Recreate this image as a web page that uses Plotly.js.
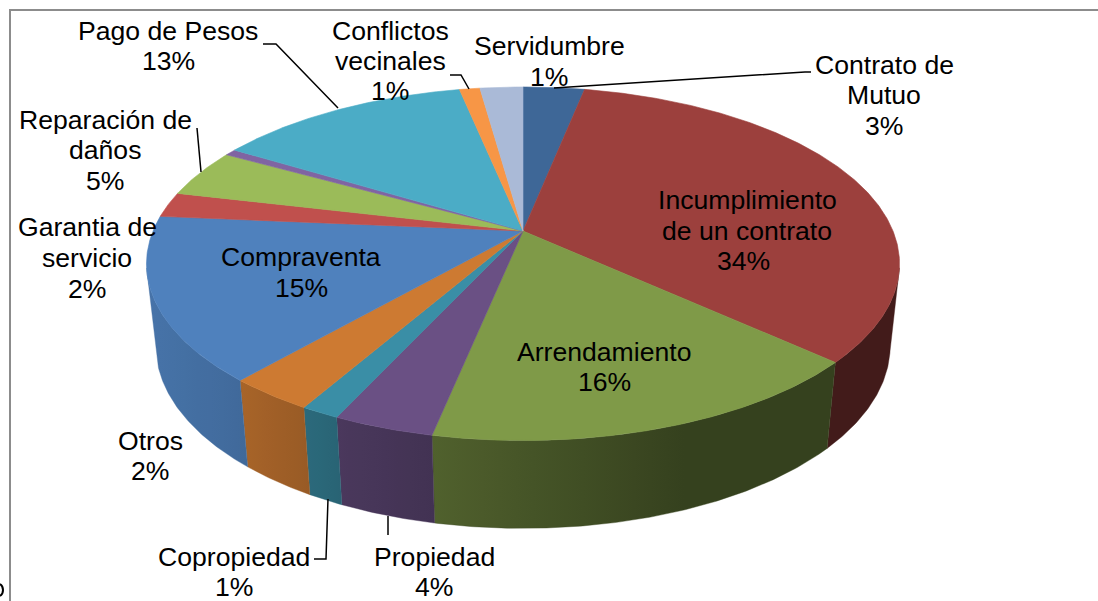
<!DOCTYPE html>
<html>
<head>
<meta charset="utf-8">
<script src="https://cdn.plot.ly/plotly-3.0.1.min.js"></script>
<style>html,body{margin:0;padding:0;background:#fff;overflow:hidden}</style>
</head>
<body>
<div id="chart" style="width:1098px;height:601px"></div>
<script>
// ---- data (clockwise from 12 o'clock) ----
const categories = ["Contrato de Mutuo","Incumplimiento de un contrato","Arrendamiento","Propiedad","Copropiedad","Otros","Compraventa","Garantia de servicio","Reparación de daños","Sin etiqueta","Pago de Pesos","Conflictos vecinales","Servidumbre"];
const sliceShares = [3.15,33.6,16.45,3.65,1.4,3.15,14.95,2.3,4.4,0.6,13.05,1.05,2.2];
const sliceColors = ["#3e6797","#9c403d","#7f9a48","#6a5084","#3a8ea6","#cd7a32","#4f81bd","#c0504d","#9bbb59","#8064a2","#4bacc6","#f79646","#aabad7"];

// Label lines: [text, x centre, y centre]
const labelLines = [
  ["Contrato de",884,65],["Mutuo",884,95],["3%",884,126],
  ["Incumplimiento",747,200],["de un contrato",747,231],["34%",743,261],
  ["Arrendamiento",604,352],["16%",604,382],
  ["Propiedad",434,557],["4%",434,587],
  ["Copropiedad",234,557],["1%",234,587],
  ["Otros",150,441],["2%",150,471],
  ["Compraventa",301,257],["15%",301,288],
  ["Garantia de",87,227],["servicio",87,258],["2%",87,289],
  ["Reparación de",105,120],["daños",105,150],["5%",105,181],
  ["Pago de Pesos",168,31],["13%",168,61],
  ["Conflictos",390,31],["vecinales",390,61],["1%",390,91],
  ["Servidumbre",549,46],["1%",549,77]
];
const leaderPaths = [
  "M263,44 L276,44 L338,108",
  "M450,75 L461,75 L469,89",
  "M197,128 L201,172",
  "M554,88 L805,72 L811,72",
  "M314,559 L326,559 L328,499",
  "M388,516 L388,535"
];

// ---- projection of the tilted pie ----
const CX=523, CY=231, A=370, B=170.7, K=0.1853, VY=3600;
function topPoint(th){ const u=Math.sin(th), v=-Math.cos(th), d=1-K*v; return [CX+A*u/d, CY+B*v/d, v]; }
function bottomPoint(th){ const p=topPoint(th), f=0.024+0.0038*p[2]; return [p[0]+f*(CX-p[0]), p[1]+f*(VY-p[1])]; }
const wallShades=[[140,.9],[240,.82],[310,.74],[340,.7],[430,.63],[590,.5],[680,.42],[910,.42]];
function shadeAt(x){
  if(x<=wallShades[0][0]) return wallShades[0][1];
  for(let i=1;i<wallShades.length;i++){
    if(x<=wallShades[i][0]){const a=wallShades[i-1],b=wallShades[i];return a[1]+(b[1]-a[1])*(x-a[0])/(b[0]-a[0]);}
  }
  return wallShades[wallShades.length-1][1];
}
function shaded(hex,s){
  const n=parseInt(hex.slice(1),16);
  return "rgb("+[(n>>16)&255,(n>>8)&255,n&255].map(c=>Math.round(c*s)).join(",")+")";
}
const total=sliceShares.reduce((a,b)=>a+b,0);
const wallTraces=[], topTraces=[];
let acc=0;
const visA=102*Math.PI/180, visB=258*Math.PI/180;
sliceShares.forEach((val,i)=>{
  const t0=acc/total*2*Math.PI; acc+=val; const t1=acc/total*2*Math.PI;
  const n=Math.max(6,Math.ceil((t1-t0)*120));
  // top face
  const xs=[CX], ys=[CY];
  for(let j=0;j<=n;j++){const p=topPoint(t0+(t1-t0)*j/n);xs.push(p[0]);ys.push(p[1]);}
  xs.push(CX);ys.push(CY);
  topTraces.push({type:"scatter",mode:"lines",x:xs,y:ys,fill:"toself",fillcolor:sliceColors[i],
    line:{color:sliceColors[i],width:0.6},hoverinfo:"text",text:categories[i],name:categories[i],showlegend:false});
  // outer wall
  const a=Math.max(t0,visA), b=Math.min(t1,visB);
  if(b>a){
    const m=Math.max(6,Math.ceil((b-a)*120)), wx=[], wy=[];
    for(let j=0;j<=m;j++){const p=topPoint(a+(b-a)*j/m);wx.push(p[0]);wy.push(p[1]);}
    for(let j=m;j>=0;j--){const p=bottomPoint(a+(b-a)*j/m);wx.push(p[0]);wy.push(p[1]);}
    wx.push(wx[0]);wy.push(wy[0]);
    const lo=Math.min(...wx), hi=Math.max(...wx), scale=[];
    for(let k=0;k<=8;k++){scale.push([k/8,shaded(sliceColors[i],shadeAt(lo+(hi-lo)*k/8))]);}
    wallTraces.push({type:"scatter",mode:"lines",x:wx,y:wy,fill:"toself",
      fillgradient:{type:"horizontal",colorscale:scale},
      line:{color:shaded(sliceColors[i],shadeAt((lo+hi)/2)),width:0.4},hoverinfo:"skip",showlegend:false});
  }
});

const annotations=labelLines.map(l=>({x:l[1],y:l[2],xref:"x",yref:"y",text:l[0],showarrow:false,
  xanchor:"center",yanchor:"middle",font:{family:"Liberation Sans, Arial, sans-serif",size:26.6,color:"#000"}}));

const shapes=leaderPaths.map(p=>({type:"path",path:p,xref:"x",yref:"y",line:{color:"#000",width:1.5}}));
shapes.push({type:"path",path:"M10,601 L10,10 L1098,10",xref:"x",yref:"y",line:{color:"#8c8c8c",width:2}});
// fragment of a cropped glyph at the lower-left edge of the source image
shapes.push({type:"path",path:"M0,584 Q3,586 3,590 Q3,594 0,596",xref:"x",yref:"y",line:{color:"#000",width:2}});

Plotly.newPlot("chart",wallTraces.concat(topTraces),{
  width:1098,height:601,margin:{l:0,r:0,t:0,b:0,pad:0},
  paper_bgcolor:"#fff",plot_bgcolor:"#fff",showlegend:false,
  xaxis:{range:[0,1098],visible:false,fixedrange:true},
  yaxis:{range:[601,0],visible:false,fixedrange:true},
  annotations:annotations,shapes:shapes
},{displayModeBar:false,staticPlot:true});
</script>
</body>
</html>
